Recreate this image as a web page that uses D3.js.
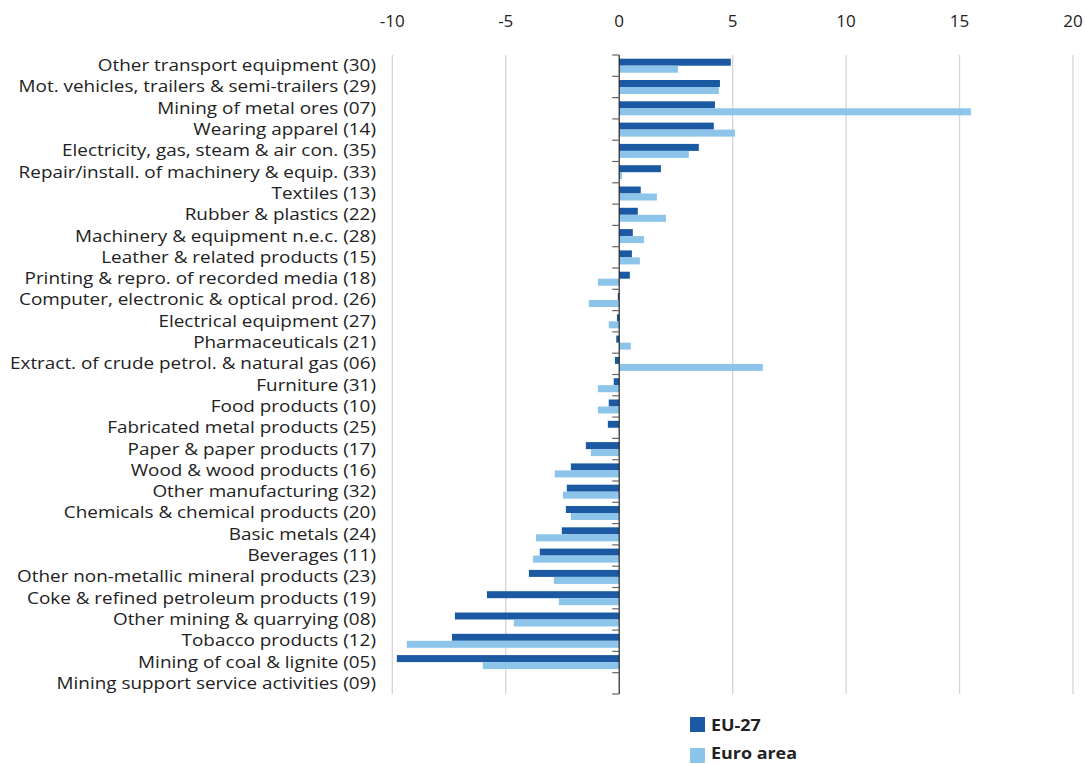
<!DOCTYPE html>
<html><head><meta charset="utf-8">
<script src="https://cdn.jsdelivr.net/npm/d3@7"></script>
<style>body{margin:0;background:#fff}svg{display:block}</style>
</head><body><svg id="c" width="1086" height="764"></svg>
<script>
const categories = ["Other transport equipment (30)","Mot. vehicles, trailers & semi-trailers (29)","Mining of metal ores (07)","Wearing apparel (14)","Electricity, gas, steam & air con. (35)","Repair/install. of machinery & equip. (33)","Textiles (13)","Rubber & plastics (22)","Machinery & equipment n.e.c. (28)","Leather & related products (15)","Printing & repro. of recorded media (18)","Computer, electronic & optical prod. (26)","Electrical equipment (27)","Pharmaceuticals (21)","Extract. of crude petrol. & natural gas (06)","Furniture (31)","Food products (10)","Fabricated metal products (25)","Paper & paper products (17)","Wood & wood products (16)","Other manufacturing (32)","Chemicals & chemical products (20)","Basic metals (24)","Beverages (11)","Other non-metallic mineral products (23)","Coke & refined petroleum products (19)","Other mining & quarrying (08)","Tobacco products (12)","Mining of coal & lignite (05)","Mining support service activities (09)"];
const eu27 = [4.92,4.44,4.22,4.17,3.51,1.84,0.95,0.82,0.6,0.56,0.47,-0.06,-0.1,-0.13,-0.19,-0.24,-0.46,-0.5,-1.47,-2.13,-2.31,-2.35,-2.53,-3.5,-3.98,-5.83,-7.24,-7.37,-9.8,0];
const euroArea = [2.59,4.39,15.5,5.1,3.07,0.12,1.66,2.06,1.09,0.91,-0.94,-1.34,-0.46,0.51,6.33,-0.94,-0.94,0,-1.25,-2.84,-2.48,-2.13,-3.67,-3.8,-2.88,-2.66,-4.64,-9.36,-6.01,0];
const ticks = [-10,-5,0,5,10,15,20];
const seriesNames = ["EU-27","Euro area"];
const colors = ["#1b5aa3","#8cc4ea"];

const svg = d3.select("#c");
const x = d3.scaleLinear().domain([-10,20]).range([392.3,1073.0]);
const y = d3.scaleBand().domain(categories).range([55,694]);
const font = "'Open Sans', 'Liberation Sans', sans-serif";

// gridlines
svg.append("g").selectAll("line").data(ticks.filter(t=>t!==0)).join("line")
  .attr("x1",d=>x(d)).attr("x2",d=>x(d)).attr("y1",55).attr("y2",694)
  .attr("stroke","#d4d4d4").attr("stroke-width",1.3);

// top tick labels
svg.append("g").selectAll("text").data(ticks).join("text")
  .attr("x",d=>x(d)).attr("y",27).attr("text-anchor","middle")
  .attr("font-family",font).attr("font-size",17).attr("fill","#222")
  .text(d=>d);

// bars
const inner = 3.7, bh = 7;
const bars = svg.append("g");
categories.forEach((c,i)=>{
  [eu27[i],euroArea[i]].forEach((v,j)=>{
    if(v===0) return;
    bars.append("rect")
      .attr("x",Math.min(x(0),x(v))).attr("width",Math.abs(x(v)-x(0)))
      .attr("y",y(c)+inner+j*bh).attr("height",bh)
      .attr("fill",colors[j]);
  });
});

// zero axis with ticks
const x0 = x(0);
svg.append("line").attr("x1",x0).attr("x2",x0).attr("y1",55).attr("y2",694)
  .attr("stroke","#222").attr("stroke-width",1.2);
const bounds = categories.map(c=>y(c)).concat([694]);
svg.append("g").selectAll("line").data(bounds).join("line")
  .attr("x1",x0-7).attr("x2",x0).attr("y1",d=>d).attr("y2",d=>d)
  .attr("stroke","#666").attr("stroke-width",1.2);

// category labels (font kept within band height, stretched horizontally to reference width)
const lfs = 15.4;
const labels = svg.append("g").selectAll("text").data(categories).join("text")
  .attr("x",376).attr("y",d=>y(d)+y.bandwidth()/2).attr("dy","0.36em")
  .attr("text-anchor","end").attr("font-family",font).attr("font-size",lfs)
  .attr("fill","#222").text(d=>d);
let maxW = 0; labels.each(function(){ maxW = Math.max(maxW, this.getComputedTextLength()); });
const k = 366/maxW;
labels.each(function(){ const w=this.getComputedTextLength();
  d3.select(this).attr("textLength",w*k).attr("lengthAdjust","spacingAndGlyphs"); });

// legend
const lg = svg.append("g");
const legFs = 15.5;
const legTexts = [];
seriesNames.forEach((n,i)=>{
  lg.append("rect").attr("x",690).attr("y",717+i*31).attr("width",15).attr("height",15).attr("fill",colors[i]);
  legTexts.push(lg.append("text").attr("x",711).attr("y",[730.5,758.8][i])
    .attr("font-family",font).attr("font-weight","bold").attr("font-size",legFs)
    .attr("fill","#222").text(n));
});
const wEA = legTexts[1].node().getComputedTextLength();
const kl = 86/wEA;
legTexts.forEach(t=>{ const w=t.node().getComputedTextLength();
  t.attr("textLength",w*kl).attr("lengthAdjust","spacingAndGlyphs"); });
</script></body></html>
